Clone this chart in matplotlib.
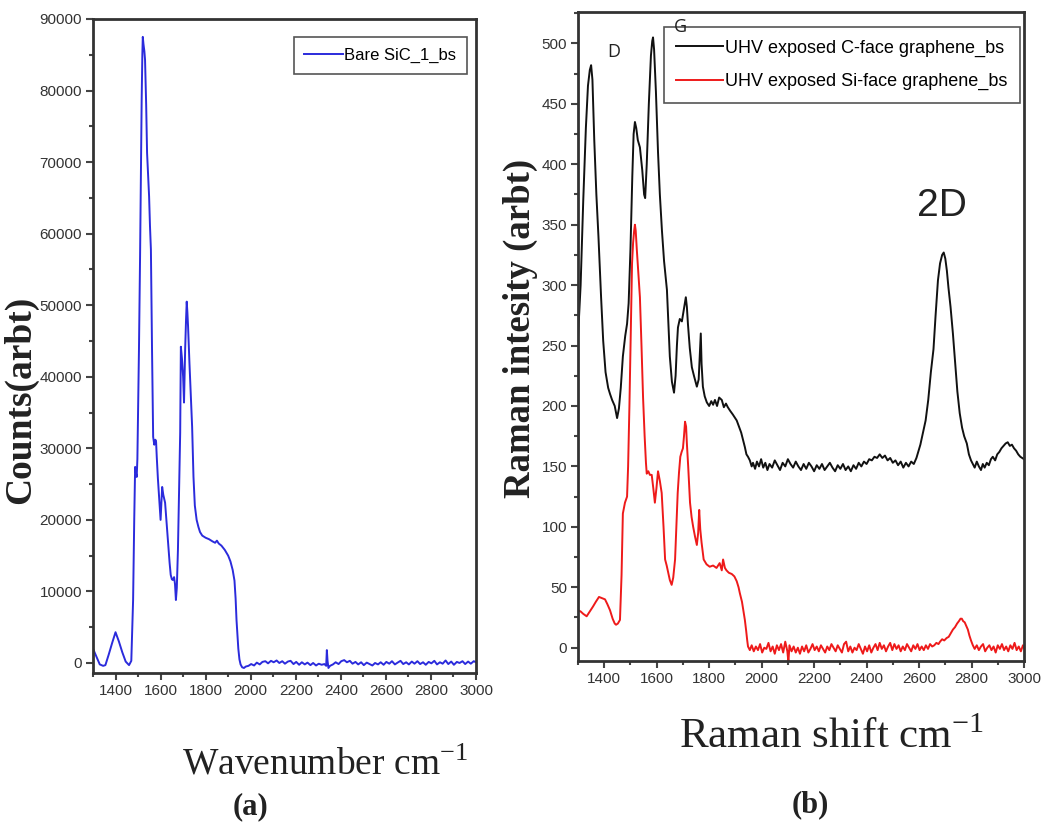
import matplotlib
matplotlib.use("Agg")
import matplotlib.pyplot as plt
from matplotlib.ticker import MultipleLocator

plt.rcParams['mathtext.fontset'] = 'stix'

NARROW = ['Liberation Sans Narrow', 'Liberation Sans', 'DejaVu Sans']
SERIF = ['Liberation Serif', 'DejaVu Serif']

# ---- (a) bare SiC spectrum ----
sic_x = [1300, 1315, 1330, 1345, 1355, 1370, 1385, 1400, 1415, 1430,
         1445, 1460, 1470, 1478, 1483, 1487, 1491, 1494, 1497, 1500,
         1504, 1509, 1513, 1516, 1519, 1521, 1524, 1528, 1531, 1536,
         1540, 1545, 1549, 1553, 1557, 1562, 1567, 1572, 1577, 1580,
         1583, 1588, 1594, 1600, 1604, 1607, 1612, 1620, 1627, 1634,
         1640, 1645, 1650, 1654, 1660, 1664, 1668, 1672, 1677, 1682,
         1687, 1690, 1695, 1700, 1704, 1709, 1713, 1716, 1719, 1722,
         1728, 1735, 1740, 1746, 1752, 1760, 1768, 1775, 1785, 1800,
         1815, 1830, 1842, 1850, 1858, 1870, 1885, 1900, 1910, 1920,
         1928, 1933, 1937, 1941, 1945, 1950, 1955, 1962, 1970, 1978,
         1990, 2002, 2015, 2027, 2040, 2052, 2065, 2077, 2090, 2102,
         2115, 2127, 2140, 2152, 2165, 2177, 2190, 2202, 2215, 2227,
         2240, 2252, 2265, 2277, 2290, 2302, 2315, 2327, 2335, 2338,
         2341, 2345, 2352, 2365, 2377, 2390, 2402, 2415, 2427, 2440,
         2452, 2465, 2477, 2490, 2502, 2515, 2527, 2540, 2552, 2565,
         2577, 2590, 2602, 2615, 2627, 2640, 2652, 2665, 2677, 2690,
         2702, 2715, 2727, 2740, 2752, 2765, 2777, 2790, 2802, 2815,
         2827, 2840, 2852, 2865, 2877, 2890, 2902, 2915, 2927, 2940,
         2952, 2965, 2977, 2990, 3000]
sic_y = [2000, 900, -200, -400, -300, 1200, 2800, 4300, 3000, 1500,
         200, -300, 300, 8800, 20000, 27400, 26500, 26000, 28500, 35000,
         43800, 57000, 70000, 78700, 85000, 87500, 86500, 85500, 84300, 78000,
         71300, 68000, 65200, 61000, 57800, 43800, 31600, 30500, 31200, 30900,
         28800, 25800, 22800, 20000, 22500, 24600, 23500, 22400, 19500, 16800,
         14000, 12300, 11700, 11600, 12000, 11000, 8800, 10500, 15800, 24000,
         32200, 44200, 42500, 40000, 36400, 43800, 48000, 50500, 49000, 47000,
         42000, 36800, 33000, 26000, 22000, 20000, 19000, 18300, 17800, 17500,
         17300, 17000, 16800, 17100, 16700, 16400, 15800, 15000, 14200, 13000,
         11500, 9000, 6000, 4000, 2000, 500, -200, -600, -700, -500,
         -400, -150, -350, 50, -200, 150, 250, -50, 300, 100,
         350, 0, 250, -100, 200, 300, -150, 150, -250, 100,
         -200, 50, -300, 0, -350, -100, -250, -150, -400, 1800,
         300, -700, -400, -200, 100, -150, 250, 400, 100, 300,
         -100, 150, -200, 100, -300, 50, -150, -350, 0, -200,
         100, -250, 150, -100, 250, -200, 50, 300, -150, 100,
         -200, 200, -100, 250, -150, 100, -250, 150, -50, 300,
         -200, 100, -100, 350, -150, 200, -250, 150, 0, 250,
         -150, 200, -100, 250, 100]

# ---- (b) graphene spectra ----
cface_x = [1300, 1310, 1320, 1330, 1338, 1345, 1350, 1355, 1362, 1370,
           1378, 1388, 1396, 1405, 1415, 1422, 1430, 1440, 1449, 1456,
           1463, 1471, 1480, 1487, 1493, 1500, 1507, 1512, 1517, 1522,
           1528, 1536, 1545, 1552, 1556, 1562, 1570, 1578, 1583, 1586,
           1590, 1597, 1605, 1612, 1620, 1628, 1639, 1645, 1650, 1658,
           1666, 1672, 1677, 1681, 1688, 1696, 1702, 1708, 1711, 1715,
           1719, 1726, 1734, 1742, 1753, 1760, 1765, 1768, 1771, 1776,
           1783, 1791, 1800, 1808, 1815, 1822, 1830, 1838, 1848, 1856,
           1864, 1871, 1880, 1890, 1905, 1915, 1922, 1929, 1936, 1942,
           1948, 1955, 1962, 1967, 1975, 1982, 1990, 1998, 2006, 2014,
           2022, 2030, 2040, 2050, 2060, 2070, 2080, 2090, 2100, 2110,
           2120, 2130, 2140, 2150, 2160, 2170, 2180, 2190, 2200, 2210,
           2220, 2230, 2240, 2250, 2260, 2270, 2280, 2290, 2300, 2310,
           2320, 2330, 2340, 2350, 2360, 2370, 2380, 2390, 2400, 2410,
           2420, 2430, 2440, 2450, 2460, 2470, 2480, 2490, 2500, 2510,
           2520, 2530, 2540, 2550, 2560, 2570, 2580, 2590, 2598, 2605,
           2615, 2625, 2635, 2645, 2655, 2663, 2672, 2680, 2688, 2694,
           2700, 2706, 2712, 2720, 2729, 2738, 2746, 2755, 2764, 2772,
           2782, 2790, 2798, 2805, 2812, 2820, 2828, 2836, 2843, 2850,
           2858, 2866, 2874, 2881, 2890, 2898, 2906, 2914, 2922, 2930,
           2938, 2946, 2954, 2962, 2970, 2978, 2986, 2993, 3000]
cface_y = [257, 300, 370, 430, 465, 478, 482, 470, 420, 375,
           340, 290, 254, 228, 215, 210, 205, 200, 190, 198,
           215, 241, 258, 268, 285, 330, 390, 425, 435, 430,
           420, 414, 395, 375, 372, 400, 450, 490, 502, 505,
           495, 460, 410, 375, 345, 320, 296, 265, 241, 220,
           211, 225, 250, 265, 272, 270, 278, 286, 290, 282,
           268, 248, 232, 225, 216, 222, 245, 260, 235, 216,
           208, 203, 200, 204, 201, 205, 200, 207, 205, 199,
           202, 199, 196, 193, 188, 182, 178, 172, 166, 160,
           158, 155, 150, 153, 148, 154, 150, 156, 149, 153,
           147, 152, 149, 155, 151, 147, 153, 150, 156, 152,
           149, 154, 150, 147, 152, 148, 153, 150, 146, 151,
           148, 152, 147, 150, 153, 149, 146, 151, 148, 152,
           147, 150, 146, 151, 148, 153, 150, 154, 152, 156,
           155, 158, 157, 160, 157, 159, 155, 157, 153, 155,
           151, 154, 149, 153, 150, 154, 152, 157, 163, 168,
           178, 188, 205, 228, 247, 275, 304, 318, 325, 327,
           322, 312, 298, 282, 260, 235, 212, 194, 182, 175,
           169, 160, 155, 152, 149, 154, 150, 147, 152, 149,
           153, 151, 156, 158, 155, 160, 162, 165, 167, 169,
           170, 167, 168, 165, 163, 160, 158, 157, 156]

siface_x = [1300, 1310, 1320, 1333, 1345, 1357, 1368, 1380, 1392, 1403,
            1412, 1422, 1432, 1440, 1445, 1452, 1460, 1466, 1471, 1479,
            1487, 1491, 1496, 1501, 1506, 1510, 1514, 1517, 1520, 1524,
            1530, 1536, 1542, 1548, 1554, 1559, 1562, 1568, 1574, 1581,
            1587, 1593, 1599, 1605, 1612, 1619, 1626, 1632, 1638, 1644,
            1650, 1657, 1663, 1670, 1675, 1680, 1685, 1690, 1695, 1700,
            1704, 1708, 1712, 1715, 1720, 1727, 1733, 1739, 1746, 1753,
            1758, 1762, 1766, 1771, 1779, 1790, 1802, 1815, 1828, 1840,
            1848, 1853, 1860, 1866, 1875, 1886, 1896, 1905, 1912, 1917,
            1925, 1931, 1936, 1941, 1945, 1948, 1955, 1962, 1970, 1978,
            1986, 1994, 2002, 2010, 2018, 2026, 2034, 2042, 2050, 2058,
            2066, 2074, 2082, 2090, 2098, 2102, 2106, 2114, 2122, 2130,
            2138, 2146, 2154, 2162, 2170, 2178, 2186, 2194, 2202, 2210,
            2218, 2226, 2234, 2242, 2250, 2258, 2266, 2274, 2282, 2290,
            2298, 2306, 2314, 2322, 2330, 2338, 2346, 2354, 2362, 2370,
            2378, 2386, 2394, 2402, 2410, 2418, 2426, 2434, 2442, 2450,
            2458, 2466, 2474, 2482, 2490, 2498, 2506, 2514, 2522, 2530,
            2538, 2546, 2554, 2562, 2570, 2578, 2586, 2594, 2602, 2610,
            2618, 2626, 2634, 2642, 2650, 2658, 2666, 2674, 2680, 2688,
            2696, 2705, 2713, 2721, 2729, 2737, 2745, 2752, 2758, 2763,
            2768, 2774, 2780, 2786, 2792, 2798, 2805, 2812, 2820, 2828,
            2836, 2844, 2852, 2860, 2868, 2876, 2884, 2892, 2900, 2908,
            2916, 2924, 2932, 2940, 2948, 2956, 2964, 2972, 2980, 2988,
            2996, 3000]
siface_y = [31, 30, 28, 26, 30, 34, 38, 42, 41, 40,
            36, 31, 24, 20, 19, 20, 23, 60, 111, 120,
            125, 150, 200, 260, 318, 335, 345, 350, 345, 330,
            310, 290, 250, 207, 175, 153, 144, 146, 143, 143,
            132, 120, 132, 146, 138, 128, 100, 73, 68, 62,
            56, 52, 58, 73, 100, 128, 145, 158, 162, 165,
            175, 187, 183, 169, 150, 120, 108, 100, 92, 85,
            95, 114, 98, 87, 73, 69, 67, 68, 66, 70,
            64, 73, 66, 64, 62, 61, 59, 55, 50, 45,
            38, 30, 23, 14, 6, 1, -2, 2, -3, 1,
            -2, 3, -4, 0, -1, 4, -3, 1, -5, 2,
            -2, 3, -4, 5, -3, -12, 2, -3, 1, -4,
            0, -5, 1, -3, 2, -4, -1, 3, -2, 1,
            -3, 2, -1, -4, 1, -2, 3, 0, -3, 2,
            -1, -4, 3, 5, -3, 1, -4, 0, -2, 3,
            -1, -5, 1, -3, 2, -4, 0, 3, -2, 4,
            -1, 2, -3, 1, 4, -2, 3, -1, 2, -3,
            1, -2, 3, 0, -3, 2, -1, 3, -2, 1,
            -2, 2, -1, 3, 1, 2, 4, 3, 5, 7,
            6, 8, 9, 12, 15, 17, 20, 22, 24, 24,
            22, 21, 18, 15, 10, 6, 2, -1, 2, -2,
            1, 3, -3, 0, 2, -2, 1, -4, 2, -1,
            3, -2, 1, -3, 2, -1, 4, -2, 1, -3,
            2, 0]

W, H = 1050, 834


def fx(px):
    return px / W


def fy(py):
    return 1 - py / H


def style_axes(ax, ymajor, yminor):
    for s in ax.spines.values():
        s.set_linewidth(2)
        s.set_color('#333333')
    ax.set_xlim(1300, 3000)
    ax.set_xticks(range(1400, 3001, 200))
    ax.xaxis.set_minor_locator(MultipleLocator(100))
    ax.yaxis.set_major_locator(MultipleLocator(ymajor))
    ax.yaxis.set_minor_locator(MultipleLocator(yminor))
    ax.tick_params(which='both', direction='out', top=False, right=False,
                   color='#444444', width=1.5)
    ax.tick_params(which='major', length=5, labelsize=11, labelcolor='#333333', pad=3)
    ax.tick_params(which='minor', length=3)
    for lab in ax.get_xticklabels() + ax.get_yticklabels():
        lab.set_family(NARROW)


fig = plt.figure(figsize=(W / 100, H / 100), dpi=100)

ax1 = fig.add_axes([fx(93), fy(673), fx(476 - 93), (673 - 19) / H])
ax1.plot(sic_x, sic_y, color='#2b2bdc', lw=1.4, label='Bare SiC_1_bs')
ax1.set_ylim(-1400, 90000)
style_axes(ax1, 10000, 5000)
leg1 = ax1.legend(loc='upper right', bbox_to_anchor=(0.977, 0.972), borderaxespad=0,
                  prop={'family': NARROW, 'size': 12}, handlelength=2.3,
                  handletextpad=0.1, fancybox=False, framealpha=1, borderpad=0.65)
leg1.get_frame().set_edgecolor('#555555')
leg1.get_frame().set_linewidth(1.2)

ax2 = fig.add_axes([fx(578), fy(661), fx(1024 - 578), (661 - 12) / H])
ax2.plot(cface_x, cface_y, color='#111111', lw=1.4, label='UHV exposed C-face graphene_bs')
ax2.plot(siface_x, siface_y, color='#ee1a1a', lw=1.4, label='UHV exposed Si-face graphene_bs')
ax2.set_ylim(-11, 526)
style_axes(ax2, 50, 25)
leg2 = ax2.legend(loc='upper right', bbox_to_anchor=(0.991, 0.977), borderaxespad=0,
                  prop={'family': NARROW, 'size': 13}, handlelength=2.6,
                  handletextpad=0.1, fancybox=False, framealpha=1, labelspacing=0.9,
                  borderpad=0.7)
leg2.get_frame().set_edgecolor('#555555')
leg2.get_frame().set_linewidth(1.2)

# axis titles and panel marks
fig.text(fx(21), fy(400), 'Counts(arbt)', rotation=90, ha='center', va='center',
         family=SERIF, weight='bold', fontsize=27, color='#222222')
fig.text(fx(325), fy(765), r'Wavenumber cm$^{\mathregular{-1}}$', ha='center', va='center',
         family=SERIF, fontsize=27, color='#222222')
fig.text(fx(250), fy(807), '(a)', ha='center', va='center',
         family=SERIF, weight='bold', fontsize=22, color='#222222')

fig.text(fx(520), fy(328), 'Raman intesity (arbt)', rotation=90, ha='center', va='center',
         family=SERIF, weight='bold', fontsize=26.5, color='#222222')
fig.text(fx(832), fy(738), r'Raman shift cm$^{\mathregular{-1}}$', ha='center', va='center',
         family=SERIF, fontsize=31, color='#222222')
fig.text(fx(810), fy(805), '(b)', ha='center', va='center',
         family=SERIF, weight='bold', fontsize=22, color='#222222')

fig.text(fx(614), fy(52), 'D', ha='center', va='center', family=['Open Sans', 'DejaVu Sans'],
         fontsize=13, color='#222222')
fig.text(fx(680), fy(27), 'G', ha='center', va='center', family=['Open Sans', 'DejaVu Sans'],
         fontsize=13, color='#222222')
fig.text(fx(942), fy(206), '2D', ha='center', va='center', family=NARROW,
         fontsize=28, color='#222222')

fig.savefig('out.png', dpi=100)
